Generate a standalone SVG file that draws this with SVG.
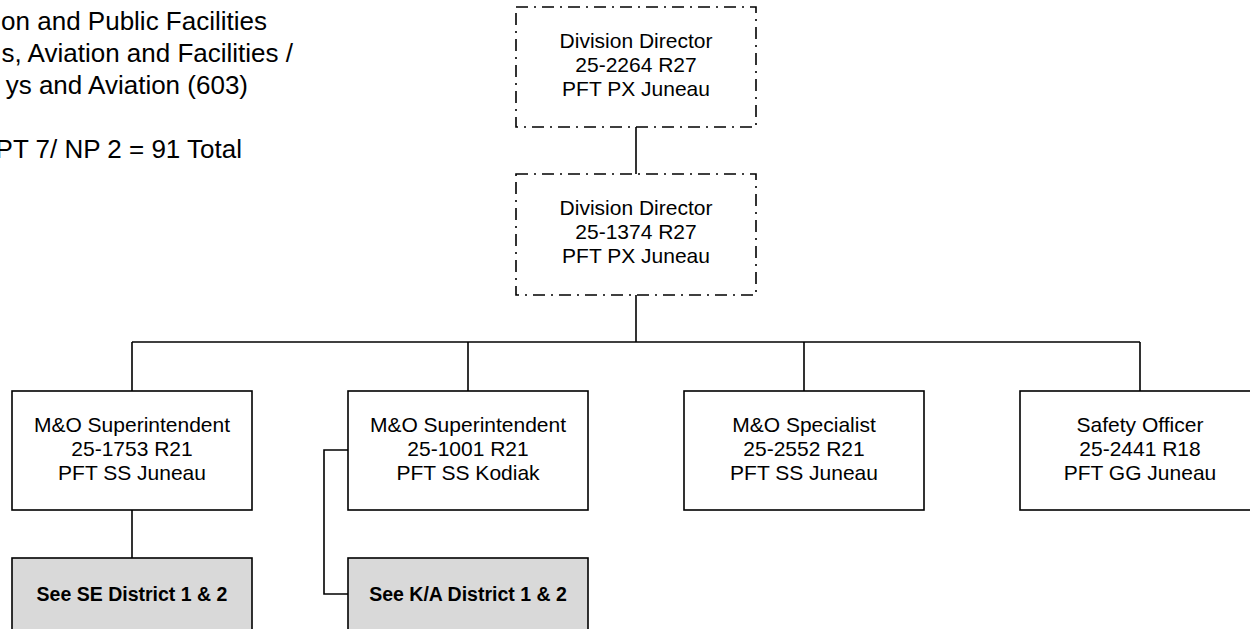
<svg xmlns="http://www.w3.org/2000/svg" width="1250" height="629" viewBox="0 0 1250 629">
<style>
.bx{fill:#fff;stroke:#000;stroke-width:1.6}
.dd{fill:#fff;stroke:#000;stroke-width:1.6;stroke-dasharray:12 6 2 6}
.gr{fill:#d9d9d9;stroke:#000;stroke-width:1.6}
.t{font-family:"Liberation Sans",Arial,sans-serif;font-size:21px;fill:#000;text-anchor:middle}
.b{font-family:"Liberation Sans",Arial,sans-serif;font-size:19.5px;font-weight:bold;fill:#000;text-anchor:middle}
.h{font-family:"Liberation Sans",Arial,sans-serif;font-size:26px;fill:#000;text-anchor:end}
.c{fill:none;stroke:#000;stroke-width:1.6}
</style>
<rect width="1250" height="629" fill="#fff"/>
<g id="header">
<text class="h" x="267" y="30">on and Public Facilities</text>
<text class="h" x="293" y="62">s, Aviation and Facilities /</text>
<text class="h" x="248" y="94">ys and Aviation (603)</text>
<text class="h" x="242" y="158">PT 7/ NP 2 = 91 Total</text>
</g>
<g id="connectors">
<path class="c" d="M636 127V174"/>
<path class="c" d="M636 295V342"/>
<path class="c" d="M132 342H1140"/>
<path class="c" d="M132 342V391M468 342V391M804 342V391M1140 342V391"/>
<path class="c" d="M132 510V558"/>
<path class="c" d="M348 450H324V594H348"/>
</g>
<g id="dir1">
<rect class="dd" x="516" y="7" width="240" height="120"/>
<text class="t" x="636" y="48">Division Director</text>
<text class="t" x="636" y="72">25-2264 R27</text>
<text class="t" x="636" y="96">PFT PX Juneau</text>
</g>
<g id="dir2">
<rect class="dd" x="516" y="174" width="240" height="121"/>
<text class="t" x="636" y="215">Division Director</text>
<text class="t" x="636" y="239">25-1374 R27</text>
<text class="t" x="636" y="263">PFT PX Juneau</text>
</g>
<g id="sup1">
<rect class="bx" x="12" y="391" width="240" height="119"/>
<text class="t" x="132" y="432">M&amp;O Superintendent</text>
<text class="t" x="132" y="456">25-1753 R21</text>
<text class="t" x="132" y="480">PFT SS Juneau</text>
</g>
<g id="sup2">
<rect class="bx" x="348" y="391" width="240" height="119"/>
<text class="t" x="468" y="432">M&amp;O Superintendent</text>
<text class="t" x="468" y="456">25-1001 R21</text>
<text class="t" x="468" y="480">PFT SS Kodiak</text>
</g>
<g id="spec">
<rect class="bx" x="684" y="391" width="240" height="119"/>
<text class="t" x="804" y="432">M&amp;O Specialist</text>
<text class="t" x="804" y="456">25-2552 R21</text>
<text class="t" x="804" y="480">PFT SS Juneau</text>
</g>
<g id="safety">
<rect class="bx" x="1020" y="391" width="240" height="119"/>
<text class="t" x="1140" y="432">Safety Officer</text>
<text class="t" x="1140" y="456">25-2441 R18</text>
<text class="t" x="1140" y="480">PFT GG Juneau</text>
</g>
<g id="se">
<rect class="gr" x="12" y="558" width="240" height="80"/>
<text class="b" x="132" y="601">See SE District 1 &amp; 2</text>
</g>
<g id="ka">
<rect class="gr" x="348" y="558" width="240" height="80"/>
<text class="b" x="468" y="601">See K/A District 1 &amp; 2</text>
</g>
</svg>
